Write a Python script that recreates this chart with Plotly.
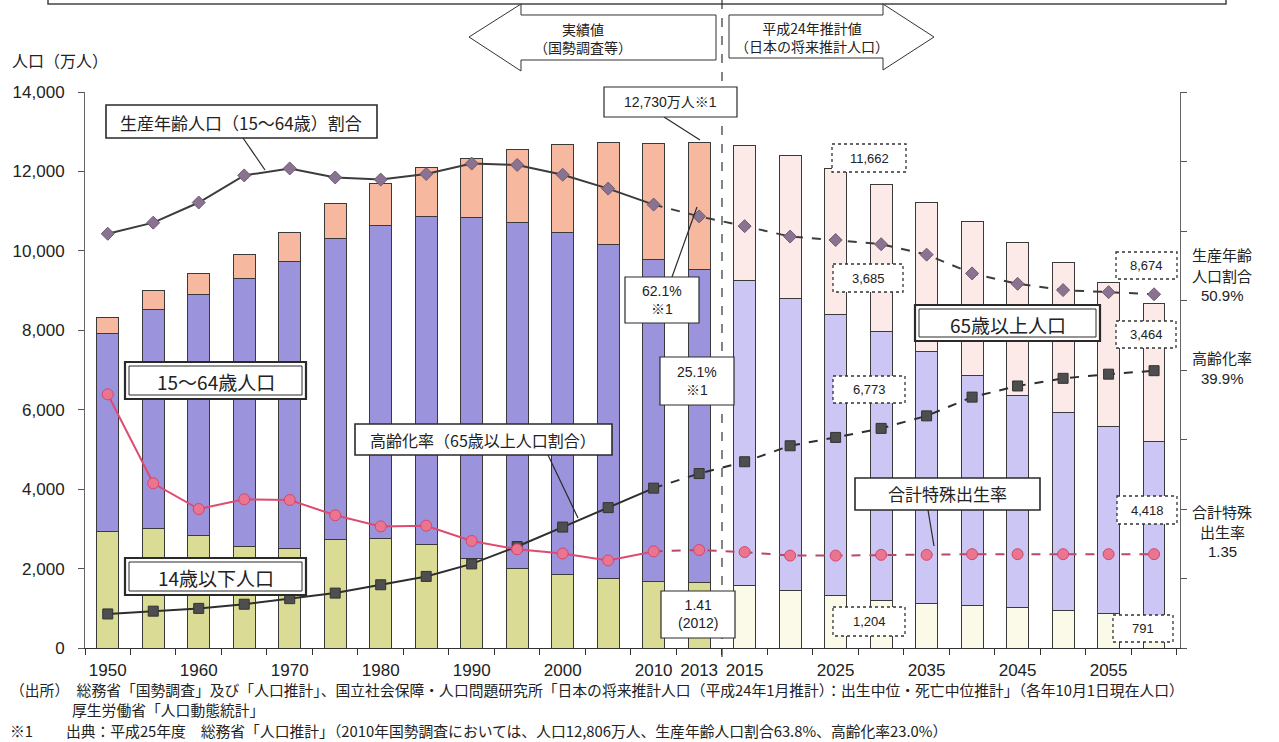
import plotly.graph_objects as go

# ---------------- data ----------------
years = ["1950", "1955", "1960", "1965", "1970", "1975", "1980", "1985", "1990", "1995",
         "2000", "2005", "2010", "2013", "2015", "2020", "2025", "2030", "2035", "2040",
         "2045", "2050", "2055", "2060"]
n_actual = 14  # 1950 .. 2013 are actual values, the rest projections

pop_0_14 = [2943, 3012, 2843, 2553, 2515, 2722, 2751, 2603, 2249, 2001, 1847, 1752, 1680, 1639,
            1583, 1457, 1324, 1204, 1129, 1073, 1012, 939, 861, 791]
pop_15_64 = [4966, 5517, 6047, 6744, 7212, 7581, 7883, 8251, 8590, 8716, 8622, 8409, 8103, 7901,
             7682, 7341, 7085, 6773, 6343, 5787, 5353, 5001, 4706, 4418]
pop_65 = [411, 479, 535, 618, 733, 887, 1065, 1247, 1493, 1828, 2204, 2576, 2925, 3190,
          3395, 3612, 3657, 3685, 3741, 3868, 3856, 3768, 3626, 3464]

working_ratio = [59.6, 61.2, 64.1, 68.0, 69.0, 67.7, 67.4, 68.2, 69.7, 69.5, 68.1, 66.1, 63.8, 62.1,
                 60.7, 59.2, 58.7, 58.1, 56.6, 53.9, 52.4, 51.5, 51.2, 50.9]
aging_rate = [4.9, 5.3, 5.7, 6.3, 7.1, 7.9, 9.1, 10.3, 12.1, 14.6, 17.4, 20.2, 23.0, 25.1,
              26.8, 29.1, 30.3, 31.6, 33.4, 36.1, 37.7, 38.8, 39.4, 39.9]
tfr = [3.65, 2.37, 2.00, 2.14, 2.13, 1.91, 1.75, 1.76, 1.54, 1.42, 1.36, 1.26, 1.39, 1.41,
       1.38, 1.33, 1.33, 1.34, 1.34, 1.35, 1.35, 1.35, 1.35, 1.35]

tick_years = ["1950", "1960", "1970", "1980", "1990", "2000", "2010", "2013", "2015",
              "2025", "2035", "2045", "2055"]

# ---------------- layout helpers ----------------
W, H = 1279, 742
L, R, T, B = 85, 1180, 92, 648
JP = "Noto Sans CJK JP"
NUM = "Liberation Sans, Noto Sans CJK JP"


def px(x):
    return (x - L) / (R - L)


def py(y):
    return (B - y) / (B - T)


xs = list(range(len(years)))
split = n_actual - 2  # index of 2010: solid up to here, dashed afterwards

fig = go.Figure()

# ---------------- bars ----------------
c_actual = ["#dadc96", "#9c93dd", "#f6b89f"]
c_proj = ["#fbfae8", "#cbc6f3", "#fbeae8"]
for k, vals in enumerate([pop_0_14, pop_15_64, pop_65]):
    cols = [c_actual[k] if i < n_actual else c_proj[k] for i in xs]
    fig.add_trace(go.Bar(x=xs, y=vals, width=0.48, marker=dict(color=cols, line=dict(color="#3a3a3a", width=1)),
                         showlegend=False, hoverinfo="skip"))


# ---------------- lines ----------------
def add_line(vals, yaxis, lcol, mcol, symbol, msize, mline, dcol):
    fig.add_trace(go.Scatter(x=xs[split:], y=vals[split:], yaxis=yaxis, mode="lines",
                             line=dict(color=dcol, width=2, dash="dash"), showlegend=False))
    fig.add_trace(go.Scatter(x=xs[:split + 1], y=vals[:split + 1], yaxis=yaxis, mode="lines",
                             line=dict(color=lcol, width=2), showlegend=False))
    fig.add_trace(go.Scatter(x=xs, y=vals, yaxis=yaxis, mode="markers",
                             marker=dict(color=mcol, symbol=symbol, size=msize, line=dict(color=mline, width=1)),
                             showlegend=False))


add_line(working_ratio, "y2", "#3c3c3c", "#8a7391", "diamond", 10, "#6d5a74", "#3c3c3c")
add_line(aging_rate, "y2", "#2e2e2e", "#4e4e4e", "square", 10, "#333333", "#2e2e2e")
add_line(tfr, "y3", "#e04a72", "#ea7590", "circle", 11, "#d4476c", "#b8486a")

shapes = []
annotations = []


def rect(x0, y0, x1, y1, width=1.2, dash="solid", fill="white", color="#2a2a2a"):
    shapes.append(dict(type="rect", xref="paper", yref="paper", x0=px(x0), x1=px(x1), y0=py(y0), y1=py(y1),
                       line=dict(color=color, width=width, dash=dash), fillcolor=fill, layer="above"))


def line(x0, y0, x1, y1, width=1.2, dash="solid", color="#2a2a2a"):
    shapes.append(dict(type="line", xref="paper", yref="paper", x0=px(x0), x1=px(x1), y0=py(y0), y1=py(y1),
                       line=dict(color=color, width=width, dash=dash), layer="above"))


def text(x, y, t, size=15, xanchor="center", family=JP, color="#222222"):
    annotations.append(dict(xref="paper", yref="paper", x=px(x), y=py(y), text=t, showarrow=False,
                            xanchor=xanchor, yanchor="middle", font=dict(family=family, size=size, color=color),
                            align="center" if xanchor == "center" else "left"))


# top frame remnant and dashed divider
rect(48, -20, 1226, 4, width=1.5, fill="rgba(0,0,0,0)", color="#444444")
line(722, 0, 722, 662, width=1.2, dash="dash", color="#333333")


# arrows
def path(points):
    s = "M " + " L ".join(f"{px(a):.5f},{py(b):.5f}" for a, b in points) + " Z"
    return s


for pts in ([(469, 37), (521, 4), (521, 15), (716, 15), (716, 60), (521, 60), (521, 71)],
            [(729, 15), (883, 15), (883, 4), (934, 37), (883, 70), (883, 58), (729, 58)]):
    shapes.append(dict(type="path", xref="paper", yref="paper", path=path(pts),
                       line=dict(color="#333333", width=1), fillcolor="white", layer="above"))
text(583, 38, "実績値<br>（国勢調査等）", size=14)
text(812, 37, "平成24年推計値<br>（日本の将来推計人口）", size=14)

# pointer lines
line(243, 138, 265, 170)
line(548, 455, 578, 518)
line(928, 510, 934, 546)
line(672, 277, 697, 207)
line(664, 117, 700, 140)

# single-border boxes
rect(106, 105, 377, 138, width=1.6)
text(241, 122, "生産年齢人口（15～64歳）割合", size=17)
rect(355, 424, 612, 455, width=1.6)
text(483, 440, "高齢化率（65歳以上人口割合）", size=16)
rect(855, 478, 1040, 510, width=1.6)
text(947, 494, "合計特殊出生率", size=17)
rect(604, 87, 737, 117, width=1.2)
text(670, 102, "12,730万人※1", size=14, family=NUM)
rect(625, 277, 699, 323, width=1.2)
text(662, 300, "62.1%<br>※1", size=14, family=NUM)
rect(660, 357, 734, 405, width=1.2)
text(697, 381, "25.1%<br>※1", size=14, family=NUM)
rect(661, 591, 735, 638, width=1.2)
text(698, 614, "1.41<br>(2012)", size=14, family=NUM)

# double-border boxes
for (x0, y0, x1, y1, t) in [(125, 362, 306, 399, "15～64歳人口"),
                            (125, 558, 306, 595, "14歳以下人口"),
                            (915, 305, 1100, 341, "65歳以上人口")]:
    rect(x0, y0, x1, y1, width=2.2)
    rect(x0 + 4, y0 + 4, x1 - 4, y1 - 4, width=1, fill="rgba(0,0,0,0)")
    text((x0 + x1) / 2, (y0 + y1) / 2 + 1, t, size=19)

# dotted value boxes
for (x0, y0, x1, y1, t) in [(832, 144, 906, 172, "11,662"), (833, 264, 903, 292, "3,685"),
                            (833, 376, 905, 403, "6,773"), (833, 607, 905, 636, "1,204"),
                            (1116, 252, 1177, 279, "8,674"), (1116, 321, 1176, 348, "3,464"),
                            (1117, 496, 1177, 524, "4,418"), (1113, 615, 1173, 642, "791")]:
    rect(x0, y0, x1, y1, width=1.3, dash="dot", color="#333333")
    text((x0 + x1) / 2, (y0 + y1) / 2, t, size=13, family=NUM)

# right-hand labels (one annotation per line)
for (yy, t, fam) in [(255, "生産年齢", JP), (275, "人口割合", JP), (295, "50.9%", NUM),
                     (357, "高齢化率", JP), (378, "39.9%", NUM),
                     (511, "合計特殊", JP), (531, "出生率", JP), (551, "1.35", NUM)]:
    text(1222, yy, t, size=15, family=fam)

# axis title
text(10, 60, "人口（万人）", size=16, xanchor="left")

# footnotes
text(8, 689, "（出所）　総務省「国勢調査」及び「人口推計」、国立社会保障・人口問題研究所「日本の将来推計人口（平成24年1月推計）：出生中位・死亡中位推計」（各年10月1日現在人口）",
     size=14.8, xanchor="left")
text(70, 709.5, "厚生労働省「人口動態統計」", size=14.8, xanchor="left")
text(8, 730, "※1　　 出典：平成25年度　総務省「人口推計」（2010年国勢調査においては、人口12,806万人、生産年齢人口割合63.8%、高齢化率23.0%）",
     size=14.8, xanchor="left")

fig.update_layout(
    width=W, height=H,
    margin=dict(l=L, r=W - R, t=T, b=H - B, autoexpand=False),
    paper_bgcolor="white", plot_bgcolor="white",
    barmode="stack", bargap=0.5,
    showlegend=False,
    font=dict(family=NUM, color="#222222"),
    xaxis=dict(range=[-0.5, 23.57], tickmode="array",
               tickvals=[years.index(y) for y in tick_years], ticktext=tick_years,
               ticks="", showgrid=False, zeroline=False, showline=True, linecolor="#333333", linewidth=1.2,
               tickfont=dict(size=17, family=NUM), ticklabelstandoff=6,
               minor=dict(tickmode="array", tickvals=[i - 0.5 for i in range(len(years) + 1)],
                          ticks="outside", ticklen=6, tickcolor="#333333", showgrid=False)),
    yaxis=dict(range=[0, 14000], tickmode="array", tickvals=list(range(0, 14001, 2000)), tickformat=",",
               ticks="outside", ticklen=6, tickcolor="#555555", showgrid=False, zeroline=False,
               showline=True, linecolor="#666666", tickfont=dict(size=17, family=NUM), ticklabelstandoff=10),
    yaxis2=dict(range=[0, 80], overlaying="y", side="right", tickmode="linear", tick0=0, dtick=10,
                ticks="outside", ticklen=6, tickcolor="#555555", showticklabels=False, showgrid=False,
                zeroline=False, showline=True, linecolor="#666666"),
    yaxis3=dict(range=[0, 8], overlaying="y", visible=False),
    shapes=shapes, annotations=annotations,
)

fig.write_html("out.html", config={"displayModeBar": False},
               post_script="document.body.style.margin='0px';document.body.style.overflow='hidden';")
